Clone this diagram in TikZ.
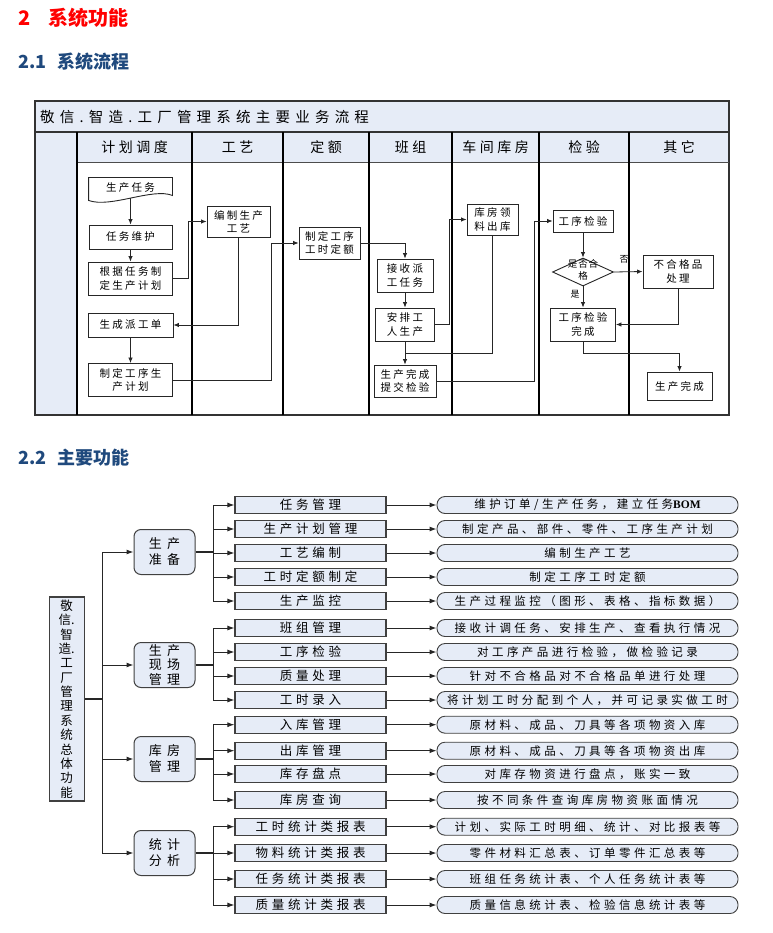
\documentclass[tikz,border=0pt]{standalone}
\usepackage{fontspec}
\setmainfont{Noto Sans CJK SC}
\newfontfamily\serifb{Liberation Serif}
\usetikzlibrary{arrows.meta,shapes.geometric,calc}
\definecolor{lbl}{RGB}{230,236,247}
\definecolor{hred}{RGB}{255,0,0}
\definecolor{hblue}{RGB}{31,73,125}
\definecolor{lgray}{RGB}{64,64,64}
\newcommand\lsfont[3]{\fontsize{#1}{#2}\selectfont\addfontfeature{LetterSpace=#3}}
\begin{document}
\begin{tikzpicture}[x=1pt,y=-1pt,
  fb/.style={draw=black!85,line width=0.9pt,fill=white,inner sep=0pt,align=center,font=\lsfont{10.5}{13.3}{22}},
  ar/.style={draw=black!85,line width=0.8pt,-{Latex[length=5.5pt,width=4.5pt]}},
  ln/.style={draw=black!85,line width=0.8pt},
  frame/.style={draw=black!80,line width=1.4pt},
  lane/.style={draw=black,line width=1.1pt},
  hd/.style={font=\lsfont{14}{16}{25},inner sep=0pt},
  l1/.style={draw=lgray,line width=1pt,fill=lbl,rounded corners=7pt,minimum width=61pt,minimum height=45pt,inner sep=0pt,align=center,font=\lsfont{13}{16}{40}},
  l2/.style={draw=lgray,line width=1.1pt,fill=lbl,minimum width=151pt,minimum height=17pt,inner sep=0pt,font=\lsfont{12.5}{15}{30}},
  l3/.style={draw=lgray,line width=0.9pt,fill=lbl,rounded corners=8pt,minimum width=301pt,minimum height=17pt,inner sep=0pt,font=\lsfont{11.5}{14}{30}},
  ar2/.style={draw=black!85,line width=1pt,-{Latex[length=7pt,width=5pt]}},
  stub/.style={draw=black!85,line width=2pt},
]
\useasboundingbox (0,0) rectangle (772,933);
\fill[white] (0,0) rectangle (772,933);

% headings
\node[anchor=west,text=hred,font=\bfseries\fontsize{20}{24}\selectfont,inner sep=0pt] (h1) at (18,18) {2\hspace{18pt}系统功能};
\node[anchor=west,text=hblue,font=\bfseries\fontsize{18}{22}\selectfont,inner sep=0pt] (h2) at (18,62) {2.1\hspace{11pt}系统流程};
\node[anchor=west,text=hblue,font=\bfseries\fontsize{18}{22}\selectfont,inner sep=0pt] (h3) at (18,458) {2.2\hspace{11pt}主要功能};

% swimlane frame
\fill[lbl] (35,101) rectangle (729,162);
\fill[lbl] (35,162) rectangle (77,415);
\draw[frame] (35,101) rectangle (729,415);
\draw[frame] (35,132) -- (729,132);
\draw[draw=black!70,line width=0.8pt] (77,162) -- (729,162);
\foreach \x in {77,192,283,369,452,539,629} \draw[lane] (\x,132) -- (\x,415);
\node[anchor=west,font=\lsfont{14.5}{16}{36},inner sep=0pt] (title) at (40,117) {敬信.智造.工厂管理系统主要业务流程};
\node[hd] (c1) at (134.5,147) {计划调度};
\node[hd] (c2) at (237.5,147) {工艺};
\node[hd] (c3) at (326,147) {定额};
\node[hd] (c4) at (410.5,147) {班组};
\node[hd] (c5) at (495.5,147) {车间库房};
\node[hd] (c6) at (584,147) {检验};
\node[hd] (c7) at (679,147) {其它};

% flow nodes
\node[fb,draw=none,fill=none,minimum width=83pt,minimum height=20pt] (task) at (130.5,188) {};
\draw[draw=black!85,line width=0.9pt,fill=white] (task.north west) -- (task.north east) -- ($(task.south east)+(0,-3)$) .. controls ($(task.south east)+(-20,-11)$) and ($(task.south west)+(22,10)$) .. ($(task.south west)+(0,2)$) -- cycle;
\node[font=\lsfont{10.5}{13.3}{22},inner sep=0pt] (tasklbl) at (task.center) {生产任务};
\node[fb,minimum width=83pt,minimum height=24pt] (maint) at (130.5,237) {任务维护};
\node[fb,minimum width=84pt,minimum height=33pt] (plan) at (130.5,278.5) {根据任务制\\定生产计划};
\node[fb,minimum width=85pt,minimum height=24pt] (disp) at (130.5,325) {生成派工单};
\node[fb,minimum width=84pt,minimum height=33pt] (proc) at (130.5,380) {制定工序生\\产计划};
\node[fb,minimum width=63pt,minimum height=31pt] (craft) at (238.5,221.5) {编制生产\\工艺};
\node[fb,minimum width=61pt,minimum height=32pt] (quota) at (329.5,243) {制定工序\\工时定额};
\node[fb,minimum width=56pt,minimum height=33pt] (recv) at (405,275.5) {接收派\\工任务};
\node[fb,minimum width=59pt,minimum height=33pt] (arrange) at (405,324.5) {安排工\\人生产};
\node[fb,minimum width=62pt,minimum height=32pt] (done) at (405,381) {生产完成\\提交检验};
\node[fb,minimum width=51pt,minimum height=31pt] (store) at (492.5,219.5) {库房领\\料出库};
\node[fb,minimum width=60pt,minimum height=22pt] (insp) at (583,221) {工序检验};
\node[draw=black!85,line width=0.9pt,fill=white,diamond,minimum width=61pt,minimum height=28pt,inner sep=0pt] (dia) at (583,272) {};
\node[font=\lsfont{9.5}{12}{10},align=center,inner sep=0pt] (dialbl) at (583,270) {是否合\\格};
\node[fb,minimum width=70pt,minimum height=33pt] (ng) at (678,271.5) {不合格品\\处理};
\node[fb,minimum width=65pt,minimum height=33pt] (insp2) at (583,324.5) {工序检验\\完成};
\node[fb,minimum width=65pt,minimum height=28pt] (fin) at (679.5,386) {生产完成};
\node[font=\fontsize{9}{11}\selectfont,inner sep=0pt] (nolbl) at (624,259) {否};
\node[font=\fontsize{9}{11}\selectfont,inner sep=0pt] (yeslbl) at (575,294) {是};

% flow connectors
\draw[ar] (task.south) -- (maint.north);
\draw[ar] (maint.south) -- (plan.north);
\draw[ar] (plan.east) -- ++(15.5,0) |- (craft.west);
\draw[ar] (craft.south) |- (disp.east);
\draw[ar] (disp.south) -- (proc.north);
\draw[ar] (proc.east) -- ++(98,0) |- (quota.west);
\draw[ar] (quota.east) -| (recv.north);
\draw[ar] (recv.south) -- (arrange.north);
\draw[ar] (arrange.east) -- ++(14,0) |- (store.west);
\coordinate (j1) at ($(arrange.south)!0.5!(done.north)$);
\draw[ar] (arrange.south) -- (done.north);
\draw[ln] (store.south) |- (j1);
\draw[ar] (done.east) -- ++(98,0) |- (insp.west);
\draw[ar] (insp.south) -- (dia.north);
\draw[ar] (dia.east) -- (ng.west);
\draw[ar] (dia.south) -- (insp2.north);
\draw[ar] (ng.south) |- (insp2.east);
\draw[ar] (insp2.south) -- ++(0,12) -| (fin.north);

% functions tree
\node[draw=lgray,line width=1.1pt,fill=lbl,minimum width=35pt,minimum height=204pt,inner sep=0pt,align=center,font=\fontsize{12.5}{14.36}\selectfont] (root) at (66.7,699) {敬\\信.\\智\\造.\\工\\厂\\管\\理\\系\\统\\总\\体\\功\\能};
\node[l1] (g1) at (164.5,552) {生产\\准备};
\node[l1,font=\lsfont{13}{14.5}{40}] (g2) at (164.5,665) {生产\\现场\\管理};
\node[l1] (g3) at (164.5,759) {库房\\管理};
\node[l1] (g4) at (164.5,853) {统计\\分析};
\draw[stub] (root.east) -- ++(18,0);
\foreach \n in {g1,g2,g3,g4} \draw[ar2] (root.east) ++(18,0) |- (\n.west);

\foreach \i/\y/\a/\b in {
 1/505/{任务管理}/{维护订单/生产任务，建立任务{\serifb\bfseries BOM}},
 2/529/{生产计划管理}/{制定产品、部件、零件、工序生产计划},
 3/553/{工艺编制}/{编制生产工艺},
 4/577/{工时定额制定}/{制定工序工时定额},
 5/601/{生产监控}/{生产过程监控（图形、表格、指标数据）},
 6/628/{班组管理}/{接收计调任务、安排生产、查看执行情况},
 7/652/{工序检验}/{对工序产品进行检验，做检验记录},
 8/676/{质量处理}/{针对不合格品对不合格品单进行处理},
 9/700/{工时录入}/{将计划工时分配到个人，并可记录实做工时},
 10/724.7/{入库管理}/{原材料、成品、刀具等各项物资入库},
 11/750.7/{出库管理}/{原材料、成品、刀具等各项物资出库},
 12/774/{库存盘点}/{对库存物资进行盘点，账实一致},
 13/800/{库房查询}/{按不同条件查询库房物资账面情况},
 14/826.7/{工时统计类报表}/{计划、实际工时明细、统计、对比报表等},
 15/853/{物料统计类报表}/{零件材料汇总表、订单零件汇总表等},
 16/879/{任务统计类报表}/{班组任务统计表、个人任务统计表等},
 17/905/{质量统计类报表}/{质量信息统计表、检验信息统计表等}} {
  \node[l2] (t\i) at (310.5,\y) {\a};
  \node[l3] (d\i) at (587.5,\y) {\b};
  \draw[ar2] (t\i.east) -- (d\i.west);
}
\foreach \g/\list in {g1/{1,2,3,4,5},g2/{6,7,8,9},g3/{10,11,12,13},g4/{14,15,16,17}} {
  \draw[stub] (\g.east) -- ++(18,0);
  \foreach \k in \list \draw[ar2] (\g.east) ++(18,0) |- (t\k.west);
}
\end{tikzpicture}
\end{document}
